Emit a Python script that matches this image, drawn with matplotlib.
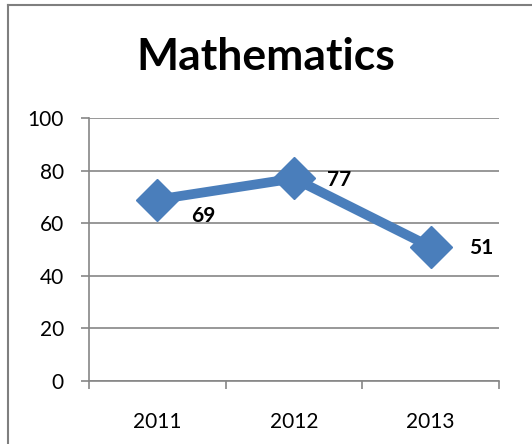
import matplotlib
matplotlib.use('Agg')
import matplotlib.pyplot as plt
from matplotlib.lines import Line2D

years = ['2011', '2012', '2013']
scores = [69, 77, 51]
yticks = [0, 20, 40, 60, 80, 100]

plt.rcParams['font.family'] = ['Lato', 'DejaVu Sans']

fig = plt.figure(figsize=(5.32, 4.44), dpi=100)
# chart border: only top and left edges fall inside the picture
bx, by = 7.5/532, 1 - 5.5/444
fig.lines.append(Line2D([bx, 1], [by, by], transform=fig.transFigure, color='#7f7f7f', lw=1.5))
fig.lines.append(Line2D([bx, bx], [0, by], transform=fig.transFigure, color='#7f7f7f', lw=1.5))

ax = fig.add_axes([89/532, 1 - 381/444, 410/532, 263/444])
xs = list(range(len(years)))
ax.plot(xs, scores, color='#4a7ebb', linewidth=7, marker='D', markersize=21,
        solid_joinstyle='miter', zorder=3)

offsets = [(24, -12), (24, -1), (28, -1)]
for x, v, off in zip(xs, scores, offsets):
    ax.annotate(str(v), (x, v), xytext=off, textcoords='offset points',
                ha='left', va='center', fontsize=15, fontweight='bold')

ax.set_xlim(-0.5, len(years) - 0.5)
ax.set_ylim(0, 100)
ax.set_yticks(yticks)
ax.tick_params(axis='y', length=6, width=1.2, color='#868686', labelsize=15, pad=12)
ax.set_xticks([x - 0.5 for x in xs] + [len(years) - 0.5])
ax.set_xticklabels([])
ax.set_xticks(xs, minor=True)
ax.set_xticklabels(years, minor=True)
ax.tick_params(axis='x', which='major', length=6, width=1.2, color='#868686')
ax.tick_params(axis='x', which='minor', length=0, labelsize=15, pad=22)
ax.grid(axis='y', color='#868686', linewidth=1.2)
ax.set_axisbelow(True)
for s in ['top', 'right']:
    ax.spines[s].set_visible(False)
for s in ['left', 'bottom']:
    ax.spines[s].set_color('#868686')
    ax.spines[s].set_linewidth(1.2)

fig.text(266/532, 1 - 57/444, 'Mathematics', ha='center', va='center',
         fontsize=32, fontweight='bold')

fig.savefig('out.png', dpi=100)
